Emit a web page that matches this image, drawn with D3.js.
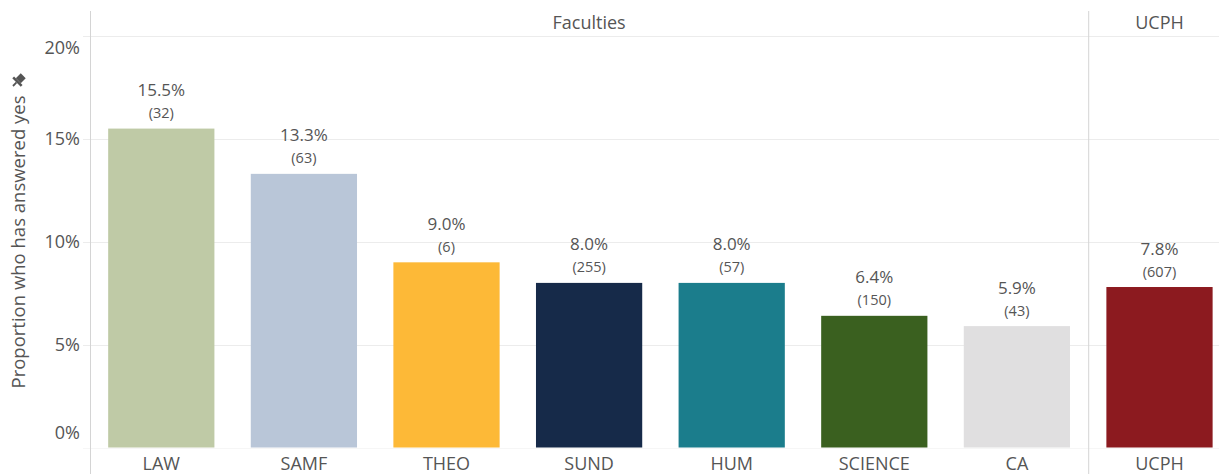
<!DOCTYPE html>
<html>
<head>
<meta charset="utf-8">
<script src="https://cdn.jsdelivr.net/npm/d3@7"></script>
<style>
  body { margin: 0; background: #fff; }
  svg text { font-family: "Open Sans", "Noto Sans", sans-serif; fill: #555; }
</style>
</head>
<body>
<svg></svg>
<script>
// data
const faculties = ["LAW", "SAMF", "THEO", "SUND", "HUM", "SCIENCE", "CA"];
const facultyValues = [15.5, 13.3, 9.0, 8.0, 8.0, 6.4, 5.9];
const facultyCounts = [32, 63, 6, 255, 57, 150, 43];
const facultyColors = ["#bfcaa6", "#b9c6d8", "#fdb937", "#162a49", "#1b7d8c", "#3a601f", "#e0dfe0"];

const totalCategories = ["UCPH"];
const totalValues = [7.8];
const totalCounts = [607];
const totalColors = ["#8c1a1f"];

const yTicks = [0, 5, 10, 15, 20];
const panelTitles = ["Faculties", "UCPH"];

const WIDTH = 1219;
const HEIGHT = 474;
const MARGINS = { top: 36, bottom: 26.5, left: 90 };
const STEP = 142.6;

const svg = d3.select('svg')
  .attr('width', WIDTH)
  .attr('height', HEIGHT);

const yScale = d3.scaleLinear()
  .domain([0, 20])
  .range([HEIGHT - MARGINS.bottom, MARGINS.top]);

const panel1Left = MARGINS.left;
const panel1Right = panel1Left + STEP * faculties.length;
const panel2Right = panel1Right + STEP * totalCategories.length;

const xFac = d3.scaleBand().domain(faculties).range([panel1Left, panel1Right]).paddingInner(0.255).paddingOuter(0.1275);
const xTot = d3.scaleBand().domain(totalCategories).range([panel1Right, panel2Right]).paddingInner(0.255).paddingOuter(0.1275);

//GRIDLINES
svg.append('g')
  .selectAll('line')
  .data(yTicks.filter(d => d > 0))
  .enter()
  .append('line')
  .attr('x1', 83)
  .attr('x2', WIDTH)
  .attr('y1', d => Math.round(yScale(d)) + 0.5)
  .attr('y2', d => Math.round(yScale(d)) + 0.5)
  .attr('stroke', '#ececec');

// zero line
svg.append('line')
  .attr('x1', 83).attr('x2', WIDTH)
  .attr('y1', Math.round(yScale(0)) + 0.5).attr('y2', Math.round(yScale(0)) + 0.5)
  .attr('stroke', '#f6f6f6');

//Y AXIS
const yAxis = svg.append('g')
  .attr('transform', `translate(${MARGINS.left}, 0)`)
  .call(d3.axisLeft(yScale).tickValues(yTicks).tickFormat(d => d + '%').tickSize(0).tickPadding(10));
yAxis.select('.domain').remove();
yAxis.selectAll('text')
  .attr('font-size', 18)
  .style('font-family', '"Open Sans", sans-serif')
  .attr('fill', '#555')
  .attr('dy', d => d === 20 ? '0.95em' : d === 0 ? '-0.5em' : '0.3em');

// axis title
svg.append('text')
  .attr('transform', `translate(25, 242) rotate(-90)`)
  .attr('text-anchor', 'middle')
  .attr('font-size', 18.5)
  .text('Proportion who has answered yes');

// pin icon
const pin = svg.append('g').attr('transform', 'translate(19, 80) rotate(45)').attr('fill', '#555');
pin.append('rect').attr('x', -3.5).attr('y', -6).attr('width', 7).attr('height', 7);
pin.append('rect').attr('x', -6).attr('y', 1).attr('width', 12).attr('height', 2.5);
pin.append('rect').attr('x', -0.9).attr('y', 3.5).attr('width', 1.8).attr('height', 5);

//SEPARATORS
[panel1Left, panel1Right].forEach(x => {
  svg.append('line')
    .attr('x1', x + 0.5).attr('x2', x + 0.5)
    .attr('y1', 11).attr('y2', HEIGHT)
    .attr('stroke', '#d4d4d4');
});

//PANEL TITLES
svg.append('text')
  .attr('x', (panel1Left + panel1Right) / 2)
  .attr('y', 28.5)
  .attr('text-anchor', 'middle')
  .attr('font-size', 18)
  .text(panelTitles[0]);
svg.append('text')
  .attr('x', xTot('UCPH') + xTot.bandwidth() / 2)
  .attr('y', 28.5)
  .attr('text-anchor', 'middle')
  .attr('font-size', 18)
  .text(panelTitles[1]);

//DRAW BARS
function drawPanel(cats, values, counts, colors, xScale) {
  const rows = cats.map((c, i) => ({ name: c, value: values[i], count: counts[i], color: colors[i] }));
  const g = svg.append('g');

  g.selectAll('.bar')
    .data(rows)
    .enter()
    .append('rect')
    .classed('bar', true)
    .attr('x', d => xScale(d.name))
    .attr('y', d => yScale(d.value))
    .attr('width', xScale.bandwidth())
    .attr('height', d => yScale(0) - yScale(d.value))
    .attr('fill', d => d.color);

  g.selectAll('.val')
    .data(rows)
    .enter()
    .append('text')
    .attr('x', d => xScale(d.name) + xScale.bandwidth() / 2)
    .attr('y', d => yScale(d.value) - 32.5)
    .attr('text-anchor', 'middle')
    .attr('font-size', 17)
    .text(d => d.value.toFixed(1) + '%');

  g.selectAll('.cnt')
    .data(rows)
    .enter()
    .append('text')
    .attr('x', d => xScale(d.name) + xScale.bandwidth() / 2)
    .attr('y', d => yScale(d.value) - 10.5)
    .attr('text-anchor', 'middle')
    .attr('font-size', 14.5)
    .text(d => '(' + d.count + ')');

  //X AXIS
  const ax = g.append('g')
    .attr('transform', `translate(0, ${yScale(0)})`)
    .call(d3.axisBottom(xScale).tickSize(0).tickPadding(10));
  ax.select('.domain').remove();
  ax.selectAll('text')
    .attr('font-size', 18)
    .style('font-family', '"Open Sans", sans-serif')
    .attr('fill', '#555');
}

drawPanel(faculties, facultyValues, facultyCounts, facultyColors, xFac);
drawPanel(totalCategories, totalValues, totalCounts, totalColors, xTot);
</script>
</body>
</html>
